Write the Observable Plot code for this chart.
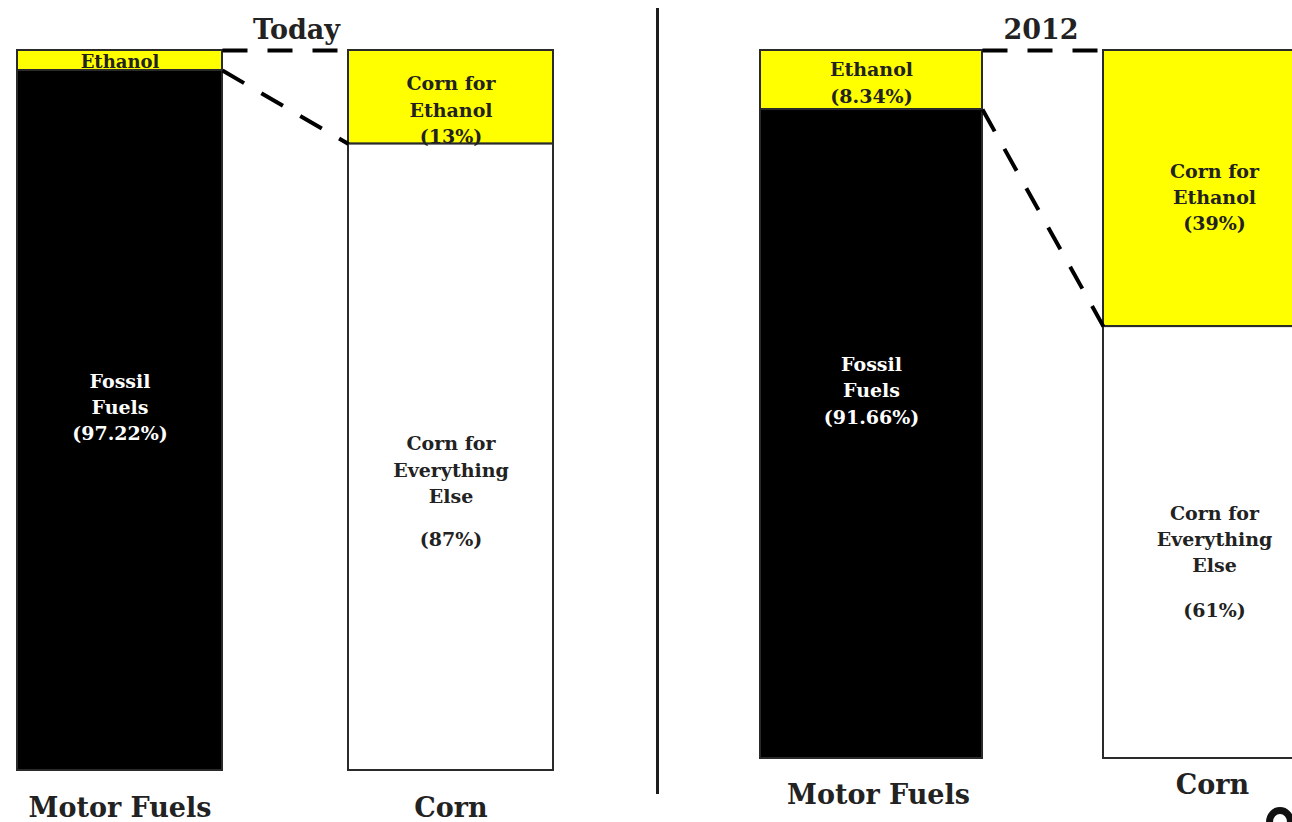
<!DOCTYPE html>
<html>
<head>
<meta charset="utf-8">
<script src="https://cdn.jsdelivr.net/npm/d3@7"></script>
<script src="https://cdn.jsdelivr.net/npm/@observablehq/plot@0.6"></script>
<style>
  html, body { margin: 0; padding: 0; background: #fff; overflow: hidden; }
  #wrap { position: relative; width: 1292px; height: 822px; overflow: hidden; background: #fff; }
  .panel { position: absolute; top: 0; height: 822px; }
  .panel svg { overflow: visible; max-width: none !important; display: block; }
  #divider { position: absolute; left: 656px; top: 8px; width: 3px; height: 786px; background: #1c1c1c; }
  #logo { position: absolute; left: 1266px; top: 807px; width: 28px; height: 30px; border: 7px solid #111; border-radius: 50%; box-sizing: border-box; }
</style>
</head>
<body>
<div id="wrap">
  <div id="left" class="panel" style="left:0px;width:657px"></div>
  <div id="divider"></div>
  <div id="right" class="panel" style="left:657px;width:700px"></div>
  <div id="logo"></div>
</div>
<script>
// ---- data ----
const panelTitles = ["Today", "2012"];
const categories = ["Motor Fuels", "Corn"];
const motorEthanol = [2.78, 8.34];     // % of motor fuels
const motorFossil = [97.22, 91.66];    // % of motor fuels
const cornEthanol = [13, 39];          // % of corn
const cornOther = [87, 61];            // % of corn
const ethanolLabels = ["Ethanol", "Ethanol\n(8.34%)"];
const fossilLabels = ["Fossil\nFuels\n(97.22%)", "Fossil\nFuels\n(91.66%)"];
const cornEthanolLabels = ["Corn for\nEthanol\n(13%)", "Corn for\nEthanol\n(39%)"];
const cornOtherLabels = ["Corn for\nEverything\nElse", "Corn for\nEverything\nElse"];
const cornOtherPct = ["(87%)", "(61%)"];

// ---- layout (pixels / styling only) ----
const layouts = [
  {el: "#left", width: 657, marginLeft: 17, marginRight: 104, marginBottom: 52, gap: 126 / 205,
   ethFont: 18, dy: {eth: 0, fossil: -15, cornEth: 11, cornOther: 11, cornPct: 80},
   catDy: [38, 38], catDx: [0, 0], titleDx: 11},
  {el: "#right", width: 700, marginLeft: 103, marginRight: 32, marginBottom: 64, gap: 121 / 222,
   ethFont: 19, dy: {eth: 1, fossil: -45, cornEth: 7, cornOther: -5, cornPct: 66},
   catDy: [37, 27], catDx: [7, -2], titleDx: -2}
];

const YELLOW = "#ffff00", BLACK = "#000000", WHITE = "#ffffff", INK = "#222222";
const FONT = "DejaVu Serif, serif";

function drawPanel(i) {
  const L = layouts[i];
  const gap = L.gap;
  const xStart = c => categories.indexOf(c) * (1 + gap);
  const xMid = c => xStart(c) + 0.5;

  const e = motorEthanol[i], f = motorFossil[i], ce = cornEthanol[i], co = cornOther[i];
  const segs = [
    {cat: "Motor Fuels", y1: 0, y2: e, fill: YELLOW},
    {cat: "Motor Fuels", y1: e, y2: e + f, fill: BLACK},
    {cat: "Corn", y1: 0, y2: ce, fill: YELLOW},
    {cat: "Corn", y1: ce, y2: ce + co, fill: WHITE}
  ];
  const links = [
    {x1: xStart("Motor Fuels") + 1, y1: 0, x2: xStart("Corn"), y2: 0},
    {x1: xStart("Motor Fuels") + 1, y1: e, x2: xStart("Corn"), y2: ce}
  ];
  const inner = [
    {x: xMid("Motor Fuels"), y: e / 2, text: ethanolLabels[i], fill: INK, size: L.ethFont, dy: L.dy.eth},
    {x: xMid("Motor Fuels"), y: e + f / 2, text: fossilLabels[i], fill: WHITE, size: 19, dy: L.dy.fossil},
    {x: xMid("Corn"), y: ce / 2, text: cornEthanolLabels[i], fill: INK, size: 19, dy: L.dy.cornEth},
    {x: xMid("Corn"), y: ce + co / 2, text: cornOtherLabels[i], fill: INK, size: 19, dy: L.dy.cornOther},
    {x: xMid("Corn"), y: ce + co / 2, text: cornOtherPct[i], fill: INK, size: 19, dy: L.dy.cornPct}
  ];

  const marks = [
    Plot.rectY(segs, {x1: d => xStart(d.cat), x2: d => xStart(d.cat) + 1, y1: "y1", y2: "y2",
      fill: "fill", stroke: "#2a2a2a", strokeWidth: 2}),
    Plot.link(links, {x1: "x1", y1: "y1", x2: "x2", y2: "y2", stroke: "#000", strokeWidth: 4,
      strokeDasharray: "25,20", strokeLinecap: "butt"})
  ];
  inner.forEach(t => marks.push(Plot.text([t], {x: "x", y: "y", text: "text", fill: t.fill,
    fontSize: t.size, fontWeight: "bold", lineHeight: 1.38, dy: t.dy, lineAnchor: "middle"})));
  categories.forEach((c, k) => marks.push(Plot.text([c], {x: () => xMid(c), y: () => 100, text: d => d,
    fontSize: 27, fontWeight: "bold", fill: INK, dy: L.catDy[k], dx: L.catDx[k], lineAnchor: "middle"})));
  marks.push(Plot.text([panelTitles[i]], {x: () => xStart("Motor Fuels") + 1 + gap / 2, y: () => 0,
    text: d => d, fontSize: 27, fontWeight: "bold", fill: INK, dy: -20, dx: L.titleDx, lineAnchor: "middle"}));

  const chart = Plot.plot({
    width: L.width,
    height: 822,
    marginTop: 50,
    marginBottom: L.marginBottom,
    marginLeft: L.marginLeft,
    marginRight: L.marginRight,
    x: {domain: [0, 2 + gap], axis: null},
    y: {domain: [0, 100], reverse: true, axis: null},
    color: {type: "identity"},
    style: {fontFamily: FONT, background: "transparent", overflow: "visible", maxWidth: "none"},
    marks
  });
  document.querySelector(L.el).appendChild(chart);
}
drawPanel(0);
drawPanel(1);
</script>
</body>
</html>
